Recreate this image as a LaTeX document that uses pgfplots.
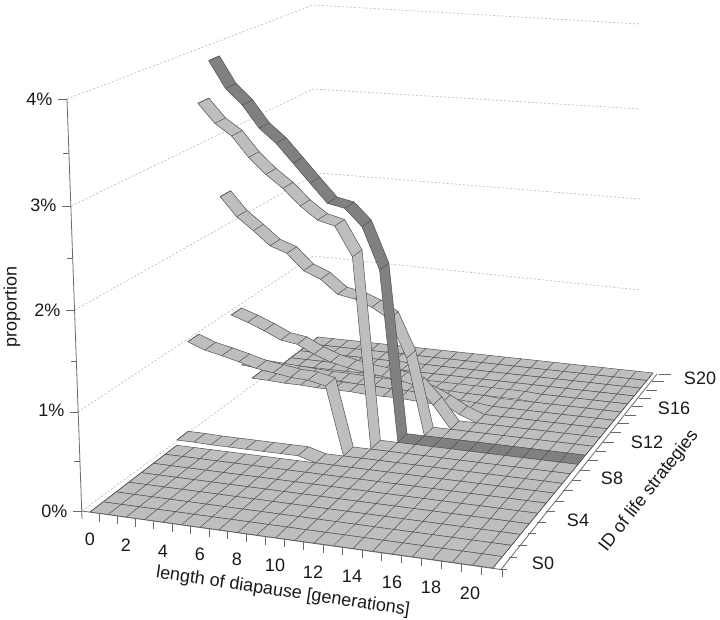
\documentclass[border=0pt]{standalone}
\usepackage{fontspec}
\setmainfont{Liberation Sans}
\usepackage{pgfplots}
\pgfplotsset{compat=1.18}

\definecolor{cell}{RGB}{190,190,190}
\definecolor{celldark}{RGB}{128,128,128}
\definecolor{edge}{RGB}{80,80,80}
\definecolor{axisline}{RGB}{105,105,105}
\definecolor{wall}{RGB}{190,190,190}
\definecolor{txt}{RGB}{25,25,25}

\tikzset{lab/.style={font=\fontsize{18}{20}\selectfont, text=txt}}

% camera: (i,j,z) -> picture position
\newcommand\proj[3]{%
  \pgfmathsetmacro\W{1-0.05982*(#1)/21+0.23155*(#2)/21}%
  \pgfmathsetmacro\U{(373.5*(#1)/21+301.6*(#2)/21+90-0.5*(#3))/\W}%
  \pgfmathsetmacro\V{(22*(#1)/21-97*(#2)/21+512-103.5*(#3))/\W}%
}
% one row of cells of the surface: j, colour, proportions at i=0..21
\newcommand\surfrow[3]{%
  \gdef\rowlo{}\gdef\rowup{}\gdef\rowdiv{}%
  \edef\zlist{#3}%
  \foreach \z [count=\k from 0] in \zlist {%
    \proj{\k}{#1}{\z}%
    \xdef\rowlo{\rowlo (\U,\V)}\xdef\rowdiv{\rowdiv (\U,\V)}%
    \proj{\k}{#1+1}{\z}%
    \xdef\rowup{(\U,\V) \rowup}\xdef\rowdiv{\rowdiv (\U,\V) (nan,nan)}%
  }%
  \edef\next{\noexpand\addplot[fill=#2,draw=edge,line width=0.5pt,line join=round] coordinates {\rowlo\space\rowup} --cycle;
    \noexpand\addplot[draw=edge,line width=0.5pt,unbounded coords=jump] coordinates {\rowdiv};}%
  \next
}
\def\zeros{0,0,0,0,0,0,0,0,0,0,0,0,0,0,0,0,0,0,0,0,0,0}

\begin{document}
\begin{tikzpicture}
\useasboundingbox (0,0) rectangle (720pt,620pt);
\begin{axis}[
    scale only axis, width=720pt, height=620pt,
    xmin=0, xmax=720, ymin=0, ymax=620,
    y dir=reverse,
    hide axis,
    clip=false,
    no markers,
]
% walls
\addplot[wall, line width=0.7pt, dash pattern=on 2pt off 2pt, unbounded coords=jump] coordinates {
    (67,99) (313,5) (640,24) (nan,nan)
    (71,206) (313,89) (640,109) (nan,nan)
    (75,310) (318,173) (640,199) (nan,nan)
    (78,412) (313,256) (640,290) (nan,nan)
    (82,511) (318,337)
};
% axis lines and ticks
\addplot[axisline, line width=0.8pt] coordinates {(67,99) (82,519)};
\addplot[axisline, line width=0.8pt] coordinates {(82,511) (501,569.5)};
\addplot[axisline, line width=0.8pt] coordinates {(501,569.5) (657,374)};
\addplot[axisline, line width=0.8pt, unbounded coords=jump] coordinates {
    (58,99) (67,99) (nan,nan) (63,153) (69,153) (nan,nan)
    (62,206) (70.9,206) (nan,nan) (67,258) (72.8,258) (nan,nan)
    (66,310) (74.7,310) (nan,nan) (71,361) (76.5,361) (nan,nan)
    (70,412) (78.4,412) (nan,nan) (74,461) (80.2,461) (nan,nan)
    (73,511) (82,511)
};
\gdef\tickpts{}
\foreach \m in {0,...,21} {
    \proj{\m}{0}{0}
    \pgfmathsetmacro\a{\U+9}\pgfmathsetmacro\b{\V+1.5}\pgfmathsetmacro\c{\V+9.5}
    \xdef\tickpts{\tickpts (\a,\b) (\a,\c) (nan,nan)}
}
\foreach \m in {0,...,20} {
    \proj{21}{\m*1.05}{0}
    \pgfmathsetmacro\a{\U+6}\pgfmathsetmacro\b{\V+1}\pgfmathsetmacro\c{\a+8+0.2*\m}
    \xdef\tickpts{\tickpts (\a,\b) (\c,\b) (nan,nan)}
}
\edef\next{\noexpand\addplot[axisline, line width=0.8pt, unbounded coords=jump] coordinates {\tickpts};}
\next
% surface, back to front
\surfrow{20}{cell}{\zeros}
\surfrow{19}{cell}{\zeros}
\surfrow{18}{cell}{\zeros}
\surfrow{17}{cell}{\zeros}
\surfrow{16}{cell}{0.012,0.012,0.012,0.012,0.012,0.012,0.012,0.012,0.012,0.012,0.012,0.012,0.012,0.012,0.012,0.012,0,0,0,0,0,0}
\surfrow{15}{cell}{0.05,0.05,0.05,0.05,0.05,0.05,0.05,0.04,0.04,0.03,0.03,0.02,0.012,0.012,0,0,0,0,0,0,0,0}
\surfrow{14}{cell}{0.105,0.10,0.09,0.09,0.08,0.08,0.08,0.07,0.07,0.07,0.06,0.05,0.03,0.02,0,0,0,0,0,0,0,0}
\surfrow{13}{cell}{0.335,0.32,0.31,0.30,0.29,0.28,0.28,0.27,0.27,0.26,0.26,0.25,0.17,0.07,0,0,0,0,0,0,0,0}
\surfrow{12}{cell}{0.965,0.904,0.832,0.75,0.723,0.635,0.57,0.53,0.50,0.48,0.46,0.42,0.236,0,0,0,0,0,0,0,0,0}
\surfrow{11}{cell}{2.325,2.124,1.99,1.844,1.78,1.611,1.537,1.395,1.363,1.294,1.189,0.797,0,0,0,0,0,0,0,0,0,0}
\surfrow{10}{celldark}{3.85,3.565,3.40,3.167,3.02,2.823,2.625,2.43,2.393,2.216,1.78,0,0,0,0,0,0,0,0,0,0,0}
\surfrow{9}{cell}{3.448,3.249,3.128,2.917,2.753,2.621,2.452,2.321,2.275,1.973,0,0,0,0,0,0,0,0,0,0,0,0}
\surfrow{8}{cell}{0.997,0.929,0.89,0.846,0.798,0.772,0.746,0.737,0.697,0,0,0,0,0,0,0,0,0,0,0,0,0}
\surfrow{7}{cell}{0.055,0.055,0.05,0.05,0.05,0.05,0.05,0.05,0,0,0,0,0,0,0,0,0,0,0,0,0,0}
\surfrow{6}{cell}{\zeros}
\surfrow{5}{cell}{\zeros}
\surfrow{4}{cell}{\zeros}
\surfrow{3}{cell}{\zeros}
\surfrow{2}{cell}{\zeros}
\surfrow{1}{cell}{\zeros}
\surfrow{0}{cell}{\zeros}
% tick labels
\node[lab,anchor=east] at (axis cs:56,99) {4\%};
\node[lab,anchor=east] at (axis cs:60,205) {3\%};
\node[lab,anchor=east] at (axis cs:64,310) {2\%};
\node[lab,anchor=east] at (axis cs:68,410) {1\%};
\node[lab,anchor=east] at (axis cs:71,511) {0\%};
\node[lab] at (axis cs:90,539) {0};
\node[lab] at (axis cs:126,545) {2};
\node[lab] at (axis cs:163,551) {4};
\node[lab] at (axis cs:200,554) {6};
\node[lab] at (axis cs:237,559) {8};
\node[lab] at (axis cs:275,565) {10};
\node[lab] at (axis cs:313,572) {12};
\node[lab] at (axis cs:352,576) {14};
\node[lab] at (axis cs:392,582) {16};
\node[lab] at (axis cs:431,587) {18};
\node[lab] at (axis cs:470,593) {20};
\node[lab] at (axis cs:543,563) {S0};
\node[lab] at (axis cs:578,520) {S4};
\node[lab] at (axis cs:612,478) {S8};
\node[lab] at (axis cs:647,442) {S12};
\node[lab] at (axis cs:674,408) {S16};
\node[lab] at (axis cs:700,378) {S20};
% axis titles
\node[lab,rotate=90] at (axis cs:12,307) {proportion};
\node[lab,rotate=-8.5] at (axis cs:283,592) {length of diapause [generations]};
\node[lab,rotate=52] at (axis cs:649,491) {ID of life strategies};
\end{axis}
\end{tikzpicture}
\end{document}
